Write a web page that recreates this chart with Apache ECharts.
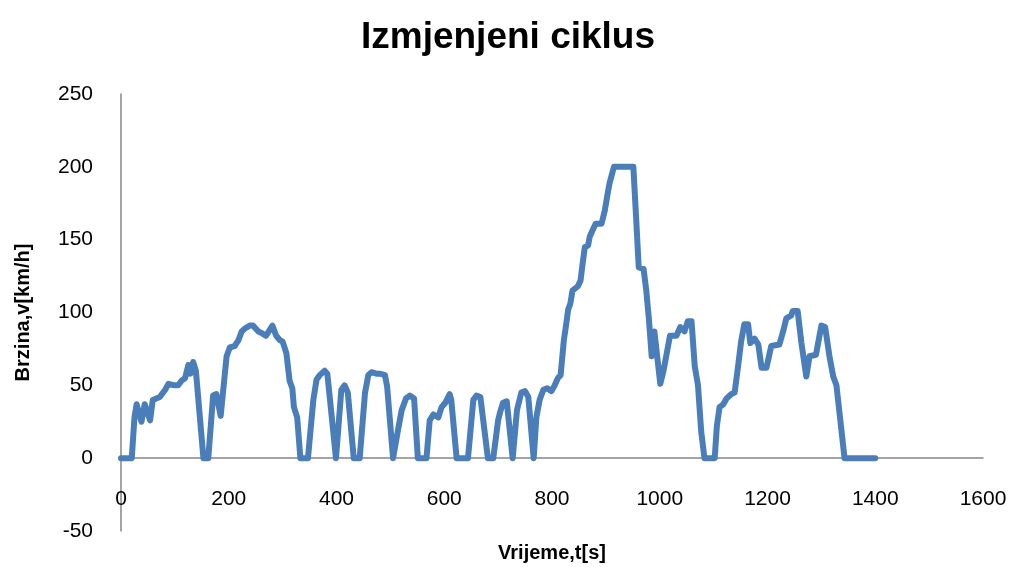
<!DOCTYPE html>
<html>
<head>
<meta charset="utf-8">
<script src="https://cdn.jsdelivr.net/npm/echarts@6/dist/echarts.min.js"></script>
<style>
  html, body { margin: 0; padding: 0; background: #fff; }
  #chart { width: 1016px; height: 567px; }
</style>
</head>
<body>
<div id="chart"></div>
<script>
// vrijeme [s] i brzina [km/h], očitano s grafa
const timeS = [
  0, 20, 25, 29, 38, 44, 54, 59, 72, 82, 88, 100, 106, 112, 119, 125, 129, 134, 139, 153,
  162, 171, 177, 185, 196, 202, 211, 218, 224, 230, 239, 245, 255, 261, 269, 276, 281, 288, 295, 300,
  307, 313, 318, 321, 327, 333, 347, 357, 363, 369, 378, 383, 399, 409, 415, 421, 432, 443, 453, 459,
  465, 474, 480, 490, 494, 505, 514, 521, 529, 536, 544, 551, 567, 573, 580, 589, 595, 602, 610, 613,
  623, 644, 654, 660, 667, 681, 691, 700, 704, 709, 716, 727, 735, 743, 750, 756, 766, 771, 777, 784,
  791, 799, 805, 811, 816, 822, 826, 830, 834, 838, 848, 853, 857, 861, 867, 870, 876, 881, 892, 898,
  904, 907, 915, 951, 956, 961, 970, 975, 980, 985, 990, 1001, 1007, 1019, 1031, 1038, 1046, 1052, 1059, 1065,
  1071, 1077, 1083, 1102, 1106, 1111, 1118, 1124, 1133, 1139, 1145, 1151, 1157, 1164, 1168, 1176, 1183, 1189, 1198, 1207,
  1222, 1229, 1235, 1244, 1247, 1256, 1263, 1272, 1278, 1290, 1294, 1300, 1307, 1315, 1322, 1328, 1334, 1343, 1400
];
const speedKmh = [
  0, 0, 28, 37, 25, 37, 26, 40, 42, 47, 51, 50, 50, 53, 55, 64, 58, 66, 60, 0,
  0, 43, 44, 29, 70, 76, 77, 81, 87, 89, 91, 91, 87, 86, 84, 88, 91, 84, 81, 80,
  72, 53, 48, 35, 28, 0, 0, 40, 54, 57, 60, 58, 0, 47, 50, 45, 0, 0, 45, 57,
  59, 58, 58, 57, 49, 0, 19, 33, 41, 43, 41, 0, 0, 26, 30, 28, 35, 38, 44, 40,
  0, 0, 40, 43, 42, 0, 0, 26, 32, 38, 39, 0, 33, 45, 46, 42, 0, 28, 40, 47,
  48, 46, 50, 55, 57, 81, 91, 102, 106, 115, 118, 122, 134, 145, 146, 152, 157, 161, 161, 170,
  183, 189, 200, 200, 166, 131, 130, 115, 95, 70, 87, 51, 60, 84, 84, 90, 87, 94, 94, 63,
  50, 18, 0, 0, 22, 35, 37, 41, 44, 45, 62, 80, 92, 92, 79, 82, 78, 62, 62, 77,
  78, 87, 96, 98, 101, 101, 79, 56, 70, 71, 79, 91, 90, 70, 56, 50, 30, 0, 0
];

const xTicks = { min: 0, max: 1600, interval: 200 };
const yTicks = { min: -50, max: 250, interval: 50 };

const chart = echarts.init(document.getElementById('chart'));
const axisColor = '#868686';
const font = 'Liberation Sans, Arial, sans-serif';

chart.setOption({
  animation: false,
  title: {
    text: 'Izmjenjeni ciklus',
    left: 'center', top: 14,
    textStyle: { fontSize: 37, fontWeight: 'bold', color: '#000', fontFamily: font }
  },
  grid: { left: 121, right: 33, top: 94, bottom: 36, outerBoundsMode: 'none', containLabel: false },
  xAxis: {
    type: 'value',
    min: xTicks.min, max: xTicks.max, interval: xTicks.interval,
    name: 'Vrijeme,t[s]',
    nameLocation: 'middle', nameGap: 12,
    nameTextStyle: { fontSize: 20, fontWeight: 'bold', color: '#000', fontFamily: font },
    axisLine: { onZero: true, lineStyle: { color: axisColor, width: 1.5 } },
    axisTick: { show: false },
    // oznake stoje ispod nulte linije (kao u Excelu)
    axisLabel: { margin: -42, fontSize: 21, color: '#000', fontFamily: font, formatter: v => String(v) },
    splitLine: { show: false }
  },
  yAxis: {
    type: 'value',
    min: yTicks.min, max: yTicks.max, interval: yTicks.interval,
    name: 'Brzina,v[km/h]',
    nameLocation: 'middle', nameGap: 88,
    nameTextStyle: { fontSize: 20, fontWeight: 'bold', color: '#000', fontFamily: font },
    axisLine: { show: true, lineStyle: { color: axisColor, width: 1.5 } },
    axisTick: { show: false },
    axisLabel: { margin: 28, fontSize: 21, color: '#000', fontFamily: font, formatter: v => String(v) },
    splitLine: { show: false }
  },
  series: [{
    type: 'line',
    data: timeS.map((t, i) => [t, speedKmh[i]]),
    showSymbol: false,
    lineStyle: { color: '#4a7ebb', width: 6, join: 'round', cap: 'round' },
    itemStyle: { color: '#4a7ebb' }
  }]
});
</script>
</body>
</html>
